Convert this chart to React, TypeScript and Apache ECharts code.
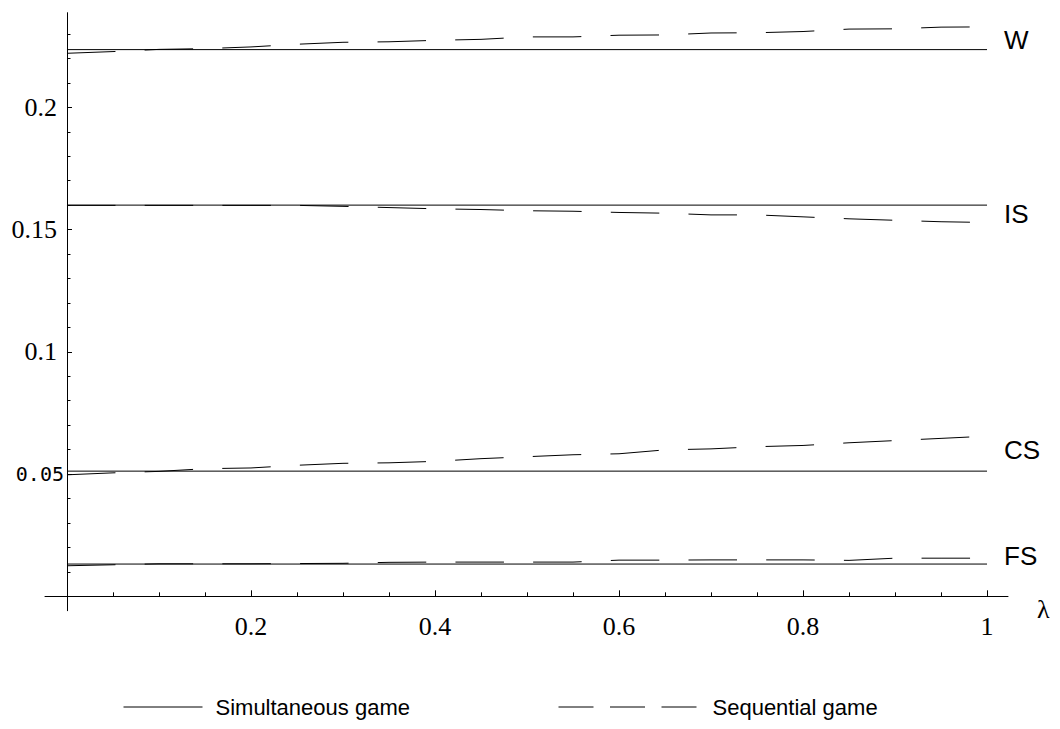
import React, { useEffect, useRef } from "react";
import * as echarts from "echarts";

// λ grid used for the sequential-game curves
const lambda = [0, 0.05, 0.1, 0.15, 0.2, 0.25, 0.3, 0.35, 0.4, 0.45, 0.5, 0.55, 0.6, 0.65, 0.7, 0.75, 0.8, 0.85, 0.9, 0.95, 1];

// Sequential game (dashed)
const seqW = [0.2221, 0.2228, 0.2237, 0.224, 0.2247, 0.2258, 0.2266, 0.2268, 0.2274, 0.2278, 0.2288, 0.2288, 0.2295, 0.2296, 0.2304, 0.2305, 0.231, 0.232, 0.2321, 0.2328, 0.2329];
const seqIS = [0.1599, 0.1599, 0.1599, 0.1599, 0.1599, 0.1599, 0.1595, 0.159, 0.1585, 0.1582, 0.1577, 0.1575, 0.157, 0.1567, 0.156, 0.156, 0.1552, 0.1544, 0.1538, 0.1532, 0.1529];
const seqCS = [0.0497, 0.0505, 0.0511, 0.0522, 0.0525, 0.0536, 0.0544, 0.0546, 0.0552, 0.0563, 0.0571, 0.0579, 0.0583, 0.0599, 0.0603, 0.0612, 0.0617, 0.0628, 0.0637, 0.0646, 0.0655];
const seqFS = [0.0125, 0.0129, 0.0133, 0.0133, 0.0133, 0.0134, 0.0135, 0.0139, 0.014, 0.014, 0.014, 0.014, 0.0148, 0.0148, 0.0149, 0.0149, 0.0149, 0.0147, 0.0156, 0.0156, 0.0156];

// Simultaneous game (solid, constant in λ)
const simLambda = [0, 1];
const simW = [0.2236, 0.2236];
const simIS = [0.16, 0.16];
const simCS = [0.0512, 0.0512];
const simFS = [0.0132, 0.0132];

const curveNames = ["W", "IS", "CS", "FS"];
const seriesNames = ["Simultaneous game", "Sequential game"];

// ticks
const xMajorTicks = [0.2, 0.4, 0.6, 0.8, 1];
const xMinorTicks = [0.05, 0.1, 0.15, 0.25, 0.3, 0.35, 0.45, 0.5, 0.55, 0.65, 0.7, 0.75, 0.85, 0.9, 0.95];
const yMajorTicks = [0.05, 0.1, 0.15, 0.2];
const yMinorTicks = [0.01, 0.02, 0.03, 0.04, 0.06, 0.07, 0.08, 0.09, 0.11, 0.12, 0.13, 0.14, 0.16, 0.17, 0.18, 0.19, 0.21, 0.22, 0.23];
const ySerifLabels = [0.1, 0.15, 0.2];
const yMonoLabels = [0.05];

// layout / style (not data)
const X_MIN = -0.0239;
const X_MAX = 1.0228;
const Y_MIN = -0.00588;
const Y_MAX = 0.2387;
const labelDy = [-10, 8.5, -21, -8];
const SEQ_DASH = [48.5, 29.2];

const zip = (xs: number[], ys: number[]) => xs.map((x, i) => [x, ys[i]]);

export default function App() {
  const ref = useRef<HTMLDivElement>(null);
  useEffect(() => {
    if (!ref.current) return;
    const chart = echarts.init(ref.current, null, { renderer: "svg" });
    const sims = [simW, simIS, simCS, simFS];
    const seqs = [seqW, seqIS, seqCS, seqFS];
    const series: any[] = [];
    sims.forEach((vals, i) => {
      series.push({
        type: "line",
        name: seriesNames[0],
        xAxisIndex: 0,
        yAxisIndex: 0,
        data: zip(simLambda, vals),
        symbol: "none",
        showSymbol: false,
        lineStyle: { color: "#000", width: 1, type: "solid" },
        itemStyle: { color: "#000" },
        endLabel: {
          show: true,
          formatter: () => curveNames[i],
          distance: 17,
          offset: [0, labelDy[i]],
          fontSize: 26,
          fontFamily: "Liberation Sans",
          color: "#000",
        },
        emphasis: { disabled: true },
        silent: true,
      });
    });
    seqs.forEach((vals) => {
      series.push({
        type: "line",
        name: seriesNames[1],
        xAxisIndex: 0,
        yAxisIndex: 0,
        data: zip(lambda, vals),
        symbol: "none",
        showSymbol: false,
        lineStyle: { color: "#000", width: 1, type: SEQ_DASH },
        itemStyle: { color: "#000" },
        emphasis: { disabled: true },
        silent: true,
      });
    });

    const serif = "Liberation Serif";
    const hiddenSymbol = { color: "rgba(0,0,0,0)", borderColor: "rgba(0,0,0,0)", borderWidth: 0, opacity: 0 };
    chart.setOption({
      animation: false,
      backgroundColor: "#fff",
      grid: {
        left: 45,
        right: 52,
        top: 12.7,
        bottom: 118.3,
        containLabel: false,
        outerBoundsMode: "none",
      },
      xAxis: [
        {
          type: "value",
          min: X_MIN,
          max: X_MAX,
          position: "bottom",
          axisLine: { show: true, onZero: true, lineStyle: { color: "#000", width: 1 } },
          axisTick: { show: true, inside: true, length: 6, customValues: xMajorTicks, lineStyle: { color: "#000" } },
          axisLabel: {
            show: true,
            customValues: xMajorTicks,
            margin: 3,
            fontFamily: serif,
            fontSize: 26,
            color: "#000",
          },
          splitLine: { show: false },
          name: "λ",
          nameLocation: "end",
          nameGap: 29,
          nameTextStyle: { fontFamily: serif, fontSize: 26, color: "#000", verticalAlign: "top" },
        },
        {
          type: "value",
          min: X_MIN,
          max: X_MAX,
          position: "bottom",
          axisLine: { show: false, onZero: true },
          axisTick: { show: true, inside: true, length: 4, customValues: xMinorTicks, lineStyle: { color: "#000" } },
          axisLabel: { show: false },
          splitLine: { show: false },
        },
      ],
      yAxis: [
        {
          type: "value",
          min: Y_MIN,
          max: Y_MAX,
          position: "left",
          axisLine: { show: true, onZero: true, lineStyle: { color: "#000", width: 1 } },
          axisTick: { show: true, inside: true, length: 5, customValues: yMajorTicks, lineStyle: { color: "#000" } },
          axisLabel: {
            show: true,
            customValues: ySerifLabels,
            margin: -12,
            fontFamily: serif,
            fontSize: 26,
            lineHeight: 26,
            color: "#000",
            padding: [12, 0, 0, 0],
          },
          splitLine: { show: false },
        },
        {
          type: "value",
          min: Y_MIN,
          max: Y_MAX,
          position: "left",
          axisLine: { show: false, onZero: true },
          axisTick: { show: true, inside: true, length: 3.5, customValues: yMinorTicks, lineStyle: { color: "#000" } },
          axisLabel: {
            show: true,
            customValues: yMonoLabels,
            margin: -19,
            fontFamily: "DejaVu Sans Mono",
            fontSize: 20,
            lineHeight: 20,
            color: "#000",
            padding: [8, 0, 0, 0],
          },
          splitLine: { show: false },
        },
      ],
      legend: [
        {
          data: [seriesNames[0]],
          left: 123,
          top: 696,
          padding: 0,
          itemWidth: 79,
          itemHeight: 14,
          selectedMode: false,
          textStyle: { fontFamily: "Liberation Sans", fontSize: 22, color: "#000", padding: [0, 0, 0, 8] },
          lineStyle: { color: "#000", width: 1 },
          itemStyle: hiddenSymbol,
        },
        {
          data: [seriesNames[1]],
          left: 558,
          top: 696,
          padding: 0,
          itemWidth: 139,
          itemHeight: 14,
          selectedMode: false,
          textStyle: { fontFamily: "Liberation Sans", fontSize: 22, color: "#000", padding: [0, 0, 0, 10] },
          lineStyle: { color: "#000", width: 1, type: [35, 16.5] },
          itemStyle: hiddenSymbol,
        },
      ],
      series,
    });
    return () => chart.dispose();
  }, []);
  return (
    <div
      ref={ref}
      style={{ position: "fixed", left: 0, top: 0, width: 1060, height: 729, background: "#fff" }}
    />
  );
}
